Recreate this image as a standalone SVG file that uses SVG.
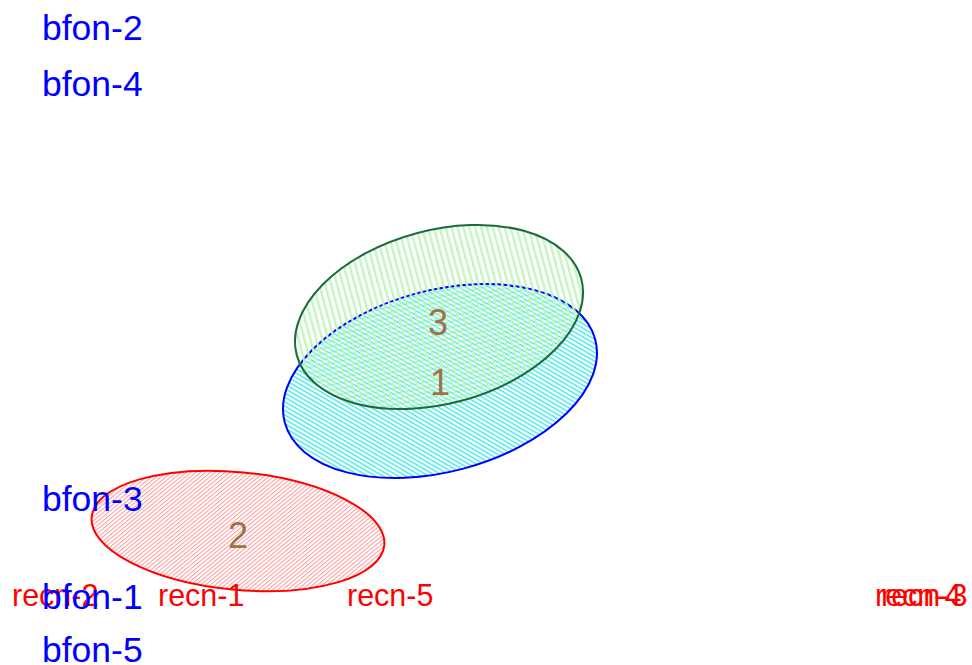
<svg xmlns="http://www.w3.org/2000/svg" width="972" height="665" viewBox="0 0 972 665">
<defs>
<pattern id="hBlue" patternUnits="userSpaceOnUse" width="10" height="3.8" patternTransform="rotate(45)">
<rect x="0" y="0" width="10" height="1.3" fill="#33E8E8"/>
</pattern>
<pattern id="hGreen" patternUnits="userSpaceOnUse" width="5.7" height="10">
<rect x="0" y="0" width="2.4" height="10" fill="#C4F5C0"/>
</pattern>
<pattern id="hRed" patternUnits="userSpaceOnUse" width="10" height="3.1" patternTransform="rotate(-45)">
<rect x="0" y="0" width="10" height="1" fill="#FF9A9A"/>
</pattern>
</defs>
<style>
.bf{font-family:"Liberation Sans",Arial,sans-serif;font-size:35.5px;fill:#0000FF}
.rc{font-family:"Liberation Sans",Arial,sans-serif;font-size:30.5px;fill:#FF0000}
.num{font-family:"Liberation Sans",Arial,sans-serif;font-size:36px;fill:#A0714A;text-anchor:middle}
</style>
<g id="cluster-1">
<ellipse cx="440" cy="381" rx="160.7" ry="90.7" transform="rotate(-15 440 381)" fill="url(#hBlue)" stroke="#0000FF" stroke-width="2"/>
</g>
<g id="cluster-2">
<ellipse cx="238" cy="531" rx="147" ry="58.8" transform="rotate(5.5 238 531)" fill="url(#hRed)" stroke="#FF0000" stroke-width="2"/>
</g>
<g id="cluster-3">
<ellipse cx="439" cy="317" rx="147.3" ry="86.7" transform="rotate(-15 439 317)" fill="url(#hGreen)" stroke="#1B6B3C" stroke-width="2"/>
</g>
<g id="connectors"></g>
<g id="labels-recn">
<text class="rc" x="12" y="606">recn-2</text>
<text class="rc" x="158" y="606">recn-1</text>
<text class="rc" x="347" y="606">recn-5</text>
<text class="rc" x="875" y="606">recn-4</text>
<text class="rc" x="881" y="606">recn-3</text>
</g>
<g id="labels-bfon">
<text class="bf" x="42" y="40">bfon-2</text>
<text class="bf" x="42" y="96">bfon-4</text>
<text class="bf" x="42" y="511">bfon-3</text>
<text class="bf" x="42" y="609">bfon-1</text>
<text class="bf" x="42" y="662">bfon-5</text>
</g>
<g id="numbers">
<text class="num" x="438" y="335">3</text>
<text class="num" x="440" y="395">1</text>
<text class="num" x="238" y="548">2</text>
</g>
</svg>
